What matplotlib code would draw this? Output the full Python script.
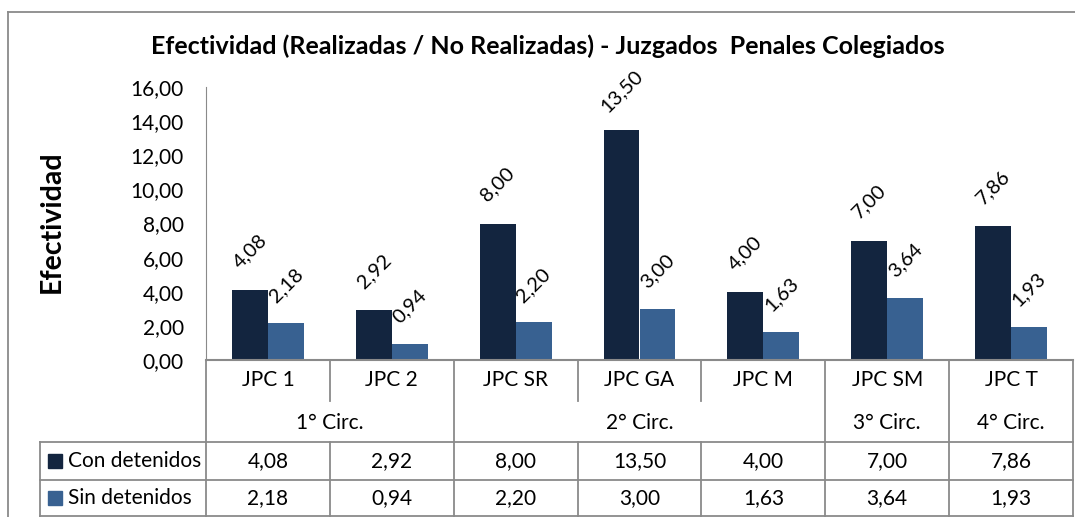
import matplotlib.pyplot as plt
import numpy as np
from matplotlib.transforms import Affine2D, blended_transform_factory
from matplotlib.lines import Line2D
from matplotlib.patches import Rectangle

# Datos del grafico
juzgados = ['JPC 1', 'JPC 2', 'JPC SR', 'JPC GA', 'JPC M', 'JPC SM', 'JPC T']
circunscripciones = ['1° Circ.', '2° Circ.', '3° Circ.', '4° Circ.']
juzgados_por_circ = [2, 3, 1, 1]
con_detenidos = [4.08, 2.92, 8.00, 13.50, 4.00, 7.00, 7.86]
sin_detenidos = [2.18, 0.94, 2.20, 3.00, 1.63, 3.64, 1.93]
series = ['Con detenidos', 'Sin detenidos']
y_ticks = [0, 2, 4, 6, 8, 10, 12, 14, 16]

OSCURO = '#13253f'
CLARO = '#386191'
GRIS = '#8a8a8a'
W, H = 1075, 517

plt.rcParams['font.family'] = ['Lato', 'DejaVu Sans']


def coma(v):
    return f'{v:.2f}'.replace('.', ',')


fig = plt.figure(figsize=(W / 100, H / 100), dpi=100)
ax = fig.add_axes([206 / W, 1 - 360 / H, (1073 - 206) / W, (360 - 87) / H])

x = np.arange(len(juzgados))
ancho = 0.29
ax.bar(x - ancho / 2, con_detenidos, ancho, color=OSCURO)
ax.bar(x + ancho / 2, sin_detenidos, ancho, color=CLARO)

# etiquetas inclinadas encima de cada barra
for xi, v in zip(x, con_detenidos):
    ax.annotate(coma(v), (xi - ancho / 2, v), xytext=(0, 28), textcoords='offset points',
                ha='center', va='center', rotation=45, fontsize=14.5)
for xi, v in zip(x, sin_detenidos):
    ax.annotate(coma(v), (xi + ancho / 2, v), xytext=(0, 27), textcoords='offset points',
                ha='center', va='center', rotation=45, fontsize=14.5)

ax.set_xlim(-0.5, len(juzgados) - 0.5)
ax.set_ylim(0, 16)
ax.set_yticks(y_ticks)
ax.set_yticklabels([coma(t) for t in y_ticks], fontsize=15)
ax.set_xticks([])
ax.tick_params(axis='y', length=0, pad=16)
ax.spines['top'].set_visible(False)
ax.spines['right'].set_visible(False)
ax.spines['left'].set_color(GRIS)
ax.spines['bottom'].set_color(GRIS)
ax.spines['bottom'].set_linewidth(1.5)

fig.text(548 / W, 1 - 46 / H, 'Efectividad (Realizadas / No Realizadas) - Juzgados  Penales Colegiados',
         ha='center', va='center', fontsize=18, fontweight='bold')
fig.text(52 / W, 1 - 222 / H, 'Efectividad', rotation=90, ha='center', va='center',
         fontsize=20.5, fontweight='bold')

# transformaciones: pixeles desde arriba, y x en datos
px = Affine2D().scale(1, -1).translate(0, H)
tx = blended_transform_factory(ax.transData, px)


def linea(xs, ys, tr):
    ax.add_line(Line2D(xs, ys, transform=tr, clip_on=False, color=GRIS, lw=1.3))


# tabla de datos bajo el grafico
limites_grupo = np.concatenate([[0], np.cumsum(juzgados_por_circ)]) - 0.5
for b in np.arange(len(juzgados) + 1) - 0.5:
    if np.any(np.isclose(limites_grupo, b)):
        linea([b, b], [360, 517], tx)
    else:
        linea([b, b], [360, 401], tx)
        linea([b, b], [442, 517], tx)

x1_tabla = ax.transData.transform((len(juzgados) - 0.5, 0))[0]
for yy in [442, 480, 516]:
    linea([40, x1_tabla], [yy, yy], px)
linea([40, 40], [442, 517], px)

for xi, nombre in zip(x, juzgados):
    ax.text(xi, 380, nombre, transform=tx, ha='center', va='center', fontsize=15)
for i, nombre in enumerate(circunscripciones):
    centro = (limites_grupo[i] + limites_grupo[i + 1]) / 2
    ax.text(centro, 423, nombre, transform=tx, ha='center', va='center', fontsize=15)

for fila, (nombre, valores, color) in enumerate(zip(series, [con_detenidos, sin_detenidos], [OSCURO, CLARO])):
    yc = 461 + fila * 37
    ax.add_patch(Rectangle((48, yc + 7), 14, -14, transform=px, clip_on=False, color=color))
    ax.text(68, yc, nombre, transform=px, ha='left', va='center', fontsize=15)
    for xi, v in zip(x, valores):
        ax.text(xi, yc, coma(v), transform=tx, ha='center', va='center', fontsize=15)

# borde exterior del grafico
fig.add_artist(Line2D([8, 8], [12, H], transform=px, color=GRIS, lw=1.3))
fig.add_artist(Line2D([8, W], [12, 12], transform=px, color=GRIS, lw=1.3))

fig.savefig('out.png', dpi=100)
